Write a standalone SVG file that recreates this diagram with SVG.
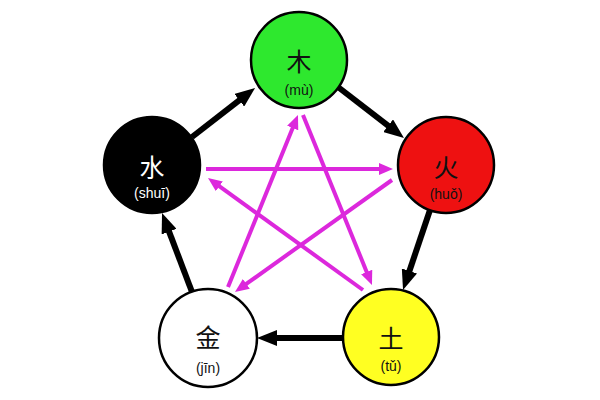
<svg xmlns="http://www.w3.org/2000/svg" width="600" height="400" viewBox="0 0 600 400">
<style>
.node{stroke:#000;stroke-width:2.5}
.han{font-family:"Noto Sans CJK SC","Noto Sans",sans-serif;font-size:25px;text-anchor:middle;dominant-baseline:central}
.py{font-family:"Liberation Sans",Arial,sans-serif;font-size:14px;text-anchor:middle}
.gen{stroke:#000;stroke-width:6;fill:none}
.ctl{stroke:#dc28dc;stroke-width:4;fill:none}
</style>
<defs>
<marker id="bh" markerUnits="userSpaceOnUse" viewBox="0 0 20 16" markerWidth="20" markerHeight="16" refX="6" refY="8" orient="auto">
<path d="M0,0 L20,8 L0,16 z" fill="#000"/>
</marker>
<marker id="mh" markerUnits="userSpaceOnUse" viewBox="0 0 14 12" markerWidth="14" markerHeight="12" refX="4" refY="6" orient="auto">
<path d="M0,0 L14,6 L0,12 z" fill="#dc28dc"/>
</marker>
</defs>
<rect width="600" height="400" fill="#fff"/>
<g id="connectors">
<line class="gen" x1="338" y1="87" x2="392.9" y2="129.4" marker-end="url(#bh)"/>
<line class="gen" x1="430" y1="210" x2="407.5" y2="276.7" marker-end="url(#bh)"/>
<line class="gen" x1="343" y1="338" x2="271" y2="338" marker-end="url(#bh)"/>
<line class="gen" x1="192" y1="292" x2="167" y2="226.1" marker-end="url(#bh)"/>
<line class="gen" x1="192" y1="137" x2="244" y2="96.6" marker-end="url(#bh)"/>
<line class="ctl" x1="206" y1="169" x2="383" y2="169" marker-end="url(#mh)"/>
<line class="ctl" x1="392" y1="180" x2="243.1" y2="286.2" marker-end="url(#mh)"/>
<line class="ctl" x1="228" y1="287" x2="294.2" y2="124.3" marker-end="url(#mh)"/>
<line class="ctl" x1="303" y1="115" x2="368.2" y2="275.7" marker-end="url(#mh)"/>
<line class="ctl" x1="363" y1="290" x2="216.1" y2="183.9" marker-end="url(#mh)"/>
</g>
<g id="wood">
<circle class="node" cx="299" cy="60" r="48" fill="#2ee82e"/>
<text class="han" x="299" y="60" fill="#111">木</text>
<text class="py" x="299" y="95" fill="#111">(mù)</text>
</g>
<g id="fire">
<circle class="node" cx="446" cy="165" r="48" fill="#ee1111"/>
<text class="han" x="446" y="166" fill="#111">火</text>
<text class="py" x="446" y="199" fill="#111">(huǒ)</text>
</g>
<g id="earth">
<circle class="node" cx="391" cy="337" r="48" fill="#ffff22"/>
<text class="han" x="391" y="337" fill="#111">土</text>
<text class="py" x="391" y="371" fill="#111">(tǔ)</text>
</g>
<g id="metal">
<circle class="node" cx="208" cy="338" r="49" fill="#fff"/>
<text class="han" x="208" y="336" fill="#111">金</text>
<text class="py" x="208" y="373" fill="#111">(jīn)</text>
</g>
<g id="water">
<circle class="node" cx="152" cy="165" r="48" fill="#000"/>
<text class="han" x="152" y="166" fill="#fff">水</text>
<text class="py" x="152" y="198" fill="#fff">(shuī)</text>
</g>
</svg>
